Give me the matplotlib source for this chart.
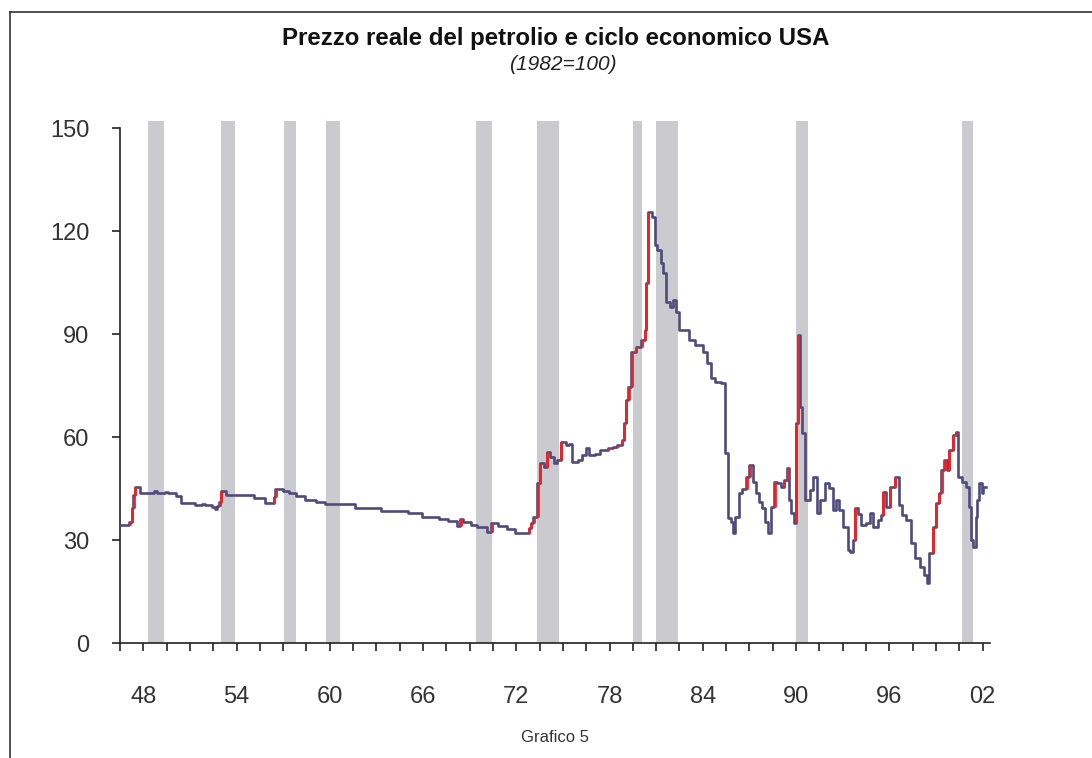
import matplotlib
matplotlib.use("Agg")
import matplotlib.pyplot as plt
from matplotlib.lines import Line2D
import numpy as np

# ---- data (step series: time in decimal years, real oil price index 1982=100)
dates = [1947.0, 1947.6, 1947.75, 1947.85, 1947.95, 1948.3, 1949.2, 1949.4, 1949.9, 1950.1,
         1950.6, 1950.9, 1951.8, 1952.3, 1952.5, 1952.9, 1953.1, 1953.25, 1953.4, 1953.5,
         1953.8, 1955.6, 1956.3, 1956.9, 1957.0, 1957.5, 1957.9, 1958.3, 1958.9, 1959.6,
         1960.2, 1962.1, 1963.8, 1965.5, 1966.4, 1967.5, 1968.1, 1968.7, 1968.9, 1969.1,
         1969.6, 1970.0, 1970.6, 1970.9, 1971.3, 1971.9, 1972.4, 1973.3, 1973.45, 1973.6,
         1973.85, 1974.0, 1974.3, 1974.45, 1974.7, 1974.9, 1975.15, 1975.35, 1975.7, 1975.9,
         1976.1, 1976.5, 1976.75, 1977.0, 1977.2, 1977.55, 1977.9, 1978.4, 1978.75, 1979.0,
         1979.3, 1979.4, 1979.55, 1979.7, 1979.9, 1980.2, 1980.55, 1980.75, 1980.85, 1980.95,
         1981.2, 1981.4, 1981.55, 1981.8, 1981.95, 1982.15, 1982.4, 1982.6, 1982.75, 1982.95,
         1983.6, 1984.0, 1984.5, 1984.75, 1985.0, 1985.3, 1985.7, 1985.95, 1986.1, 1986.3,
         1986.45, 1986.6, 1986.85, 1987.0, 1987.3, 1987.5, 1987.7, 1987.95, 1988.1, 1988.3,
         1988.5, 1988.7, 1988.9, 1989.1, 1989.3, 1989.5, 1989.7, 1989.95, 1990.05, 1990.2,
         1990.35, 1990.5, 1990.6, 1990.75, 1990.9, 1991.05, 1991.4, 1991.6, 1991.85, 1992.05,
         1992.35, 1992.6, 1992.85, 1993.05, 1993.25, 1993.5, 1993.85, 1994.0, 1994.15, 1994.3,
         1994.5, 1994.7, 1995.0, 1995.25, 1995.45, 1995.75, 1995.95, 1996.1, 1996.3, 1996.55,
         1996.85, 1997.1, 1997.3, 1997.6, 1997.9, 1998.15, 1998.45, 1998.75, 1998.95, 1999.05,
         1999.3, 1999.5, 1999.7, 1999.85, 2000.05, 2000.2, 2000.35, 2000.6, 2000.8, 2000.95,
         2001.2, 2001.45, 2001.65, 2001.78, 2001.9, 2002.05, 2002.15, 2002.3, 2002.45, 2002.55,
         2002.7]
price = [34.5, 35.3, 39.3, 43.0, 45.5, 43.6, 44.2, 43.6, 44.0, 43.6,
         42.8, 40.9, 40.2, 40.6, 40.2, 39.5, 38.9, 40.0, 41.2, 44.3,
         43.1, 42.1, 40.9, 42.5, 44.8, 44.2, 43.8, 42.7, 41.8, 41.0,
         40.5, 39.2, 38.5, 37.8, 36.8, 36.0, 35.4, 34.2, 36.2, 35.2,
         34.4, 33.9, 32.4, 34.9, 34.1, 33.1, 32.1, 33.4, 34.9, 36.8,
         46.5, 52.3, 51.2, 55.7, 54.3, 52.3, 53.3, 58.6, 57.7, 58.1,
         52.8, 53.3, 54.8, 56.7, 54.8, 55.2, 56.2, 56.7, 57.2, 57.7,
         59.1, 64.0, 70.8, 74.7, 84.9, 86.3, 88.3, 91.2, 104.8, 125.6,
         124.2, 115.9, 114.5, 110.6, 107.7, 99.4, 98.0, 99.9, 96.5, 91.2,
         88.3, 86.8, 84.9, 81.5, 77.1, 76.1, 75.7, 55.3, 36.3, 35.3,
         32.0, 36.8, 43.6, 45.0, 48.4, 51.9, 47.0, 43.6, 41.2, 39.2,
         35.3, 32.0, 39.7, 47.0, 46.5, 45.5, 47.5, 50.9, 41.7, 37.8,
         34.9, 64.0, 89.7, 68.8, 61.1, 41.7, 44.6, 48.4, 37.8, 41.7,
         46.5, 45.2, 38.7, 41.7, 38.7, 33.9, 27.1, 26.6, 30.0, 39.2,
         37.5, 34.4, 35.0, 37.8, 33.9, 35.8, 37.3, 44.1, 39.7, 45.5,
         48.4, 40.2, 37.3, 35.8, 29.0, 24.7, 22.2, 19.8, 17.4, 26.1,
         33.9, 40.7, 43.6, 50.4, 53.3, 50.4, 56.2, 60.6, 61.6, 48.4,
         47.0, 45.5, 39.7, 30.0, 28.1, 36.8, 41.7, 46.5, 43.6, 45.5,
         45.5]

# NBER recessions (start, end) as (year, month)
rec_start = [(1948, 11), (1953, 7), (1957, 8), (1960, 4), (1969, 12),
             (1973, 11), (1980, 1), (1981, 7), (1990, 7), (2001, 3)]
rec_end = [(1949, 10), (1954, 5), (1958, 4), (1961, 2), (1970, 11),
           (1975, 3), (1980, 7), (1982, 11), (1991, 3), (2001, 11)]

tick_years = ["48", "54", "60", "66", "72", "78", "84", "90", "96", "02"]
y_ticks = [0, 30, 60, 90, 120, 150]

title = "Prezzo reale del petrolio e ciclo economico USA"
subtitle = "(1982=100)"
footer = "Grafico 5"

FONT = ["Liberation Sans", "DejaVu Sans"]
plt.rcParams["font.family"] = FONT

LINE_C = "#4f4a7c"
RED_C = "#ee2222"
BAR_C = "#cbcbcf"

fig = plt.figure(figsize=(10.92, 7.58), dpi=100)
ax = fig.add_axes([120 / 1092, 1 - 643 / 758, 870 / 1092, (643 - 121.2) / 758])

t = np.array(dates)
v = np.array(price)

# recession bars
for (ys, ms), (ye, me) in zip(rec_start, rec_end):
    ax.axvspan(ys + (ms - 1) / 12, ye + me / 12, color=BAR_C, lw=0, zorder=1)

ax.step(t, v, where="post", color=LINE_C, lw=1.9, zorder=3)

# red highlight on rises that exceed the previous 12-month maximum
for i in range(1, len(v)):
    window = v[(t >= t[i] - 1.0) & (t < t[i])]
    k = np.searchsorted(t, t[i] - 1.0, side="right") - 1
    prev = np.concatenate([window, v[max(k, 0):max(k, 0) + 1]])
    prevmax = prev.max() if prev.size else v[i - 1]
    if v[i] > v[i - 1] and v[i] > prevmax:
        ax.plot([t[i] + 0.02, t[i] + 0.02], [v[i - 1], v[i]], color=RED_C, lw=2.0,
                solid_capstyle="butt", zorder=4)

ax.set_xlim(1947.0, 2002.98)
ax.set_ylim(0, 152)
ax.spines["top"].set_visible(False)
ax.spines["right"].set_visible(False)
ax.spines["left"].set_bounds(0, 150)
for s in ("left", "bottom"):
    ax.spines[s].set_linewidth(1.2)
    ax.spines[s].set_color("#222222")

xt = [1947.0 + 1.5 * k for k in range(38)]
labels = []
for x in xt:
    lbl = ""
    for j, s in enumerate(tick_years):
        if abs(x - (1948.5 + 6 * j)) < 1e-6:
            lbl = s
    labels.append(lbl)
ax.set_xticks(xt)
ax.set_xticklabels(labels)
ax.set_yticks(y_ticks)
ax.set_yticklabels([str(y) for y in y_ticks])
ax.tick_params(axis="x", direction="out", length=6, width=1.2, pad=25,
               labelsize=17, colors="#222222", labelcolor="#333333")
ax.tick_params(axis="y", direction="out", length=6, width=1.2, pad=16,
               labelsize=17, colors="#222222", labelcolor="#333333")

fig.text(556 / 1092, 1 - 38 / 758, title, ha="center", va="center",
         fontsize=17.3, fontweight="bold", color="#111111")
fig.text(563 / 1092, 1 - 64 / 758, subtitle, ha="center", va="center",
         fontsize=15, style="italic", color="#222222")
fig.text(555 / 1092, 1 - 738 / 758, footer, ha="center", va="center",
         fontsize=12, color="#333333")

# page frame
fig.add_artist(Line2D([10 / 1092, 1.0], [1 - 12 / 758, 1 - 12 / 758],
                      transform=fig.transFigure, color="#333333", lw=1.2))
fig.add_artist(Line2D([10 / 1092, 10 / 1092], [0.0, 1 - 12 / 758],
                      transform=fig.transFigure, color="#333333", lw=1.2))

fig.savefig("out.png", dpi=100)
